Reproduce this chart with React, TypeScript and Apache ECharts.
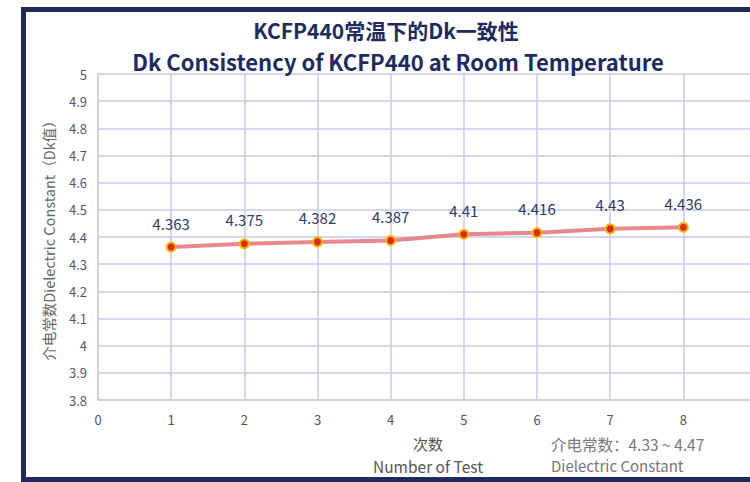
import React, { useEffect, useRef } from "react";
import * as echarts from "echarts";

const testNumbers = [1, 2, 3, 4, 5, 6, 7, 8];
const dkValues = [4.363, 4.375, 4.382, 4.387, 4.41, 4.416, 4.43, 4.436];
const titleCn = "KCFP440常温下的Dk一致性";
const titleEn = "Dk Consistency of KCFP440 at Room Temperature";
const yAxisName = "介电常数Dielectric Constant（Dk值）";
const xNameCn = "次数";
const xNameEn = "Number of Test";
const rangeCn = "介电常数：4.33 ~ 4.47";
const rangeEn = "Dielectric Constant";

const FONT = "'Noto Sans CJK SC', 'Noto Sans', sans-serif";

export default function App() {
  const ref = useRef<HTMLDivElement>(null);
  useEffect(() => {
    if (!ref.current) return;
    const chart = echarts.init(ref.current, null, { renderer: "svg" });
    chart.setOption({
      animation: false,
      backgroundColor: "#ffffff",
      textStyle: { fontFamily: FONT },
      title: [
        {
          text: titleCn,
          left: 386,
          top: 19.2,
          padding: 0,
          textAlign: "center",
          textStyle: { fontSize: 21, lineHeight: 21, fontWeight: "bold", color: "#1f2b5c", fontFamily: FONT },
        },
        {
          text: titleEn,
          left: 398,
          top: 49.8,
          padding: 0,
          textAlign: "center",
          textStyle: { fontSize: 22, lineHeight: 22, fontWeight: "bold", color: "#1f2b5c", fontFamily: FONT },
        },
      ],
      grid: { left: 98, top: 74, bottom: 82, right: 23.5 },
      xAxis: {
        type: "value",
        min: 0,
        max: 9,
        interval: 1,
        axisLine: { show: true, lineStyle: { color: "#d0d0d0", width: 1.5 } },
        axisTick: { show: false },
        axisLabel: { margin: 13, fontSize: 13, color: "#555555", fontFamily: FONT },
        splitLine: { show: true, lineStyle: { color: "#c9c9ef", width: 1.5 } },
      },
      yAxis: {
        type: "value",
        min: 3.8,
        max: 5,
        interval: 0.1,
        name: yAxisName,
        nameLocation: "middle",
        nameGap: 42,
        nameTextStyle: { fontSize: 14.5, color: "#666666", fontFamily: FONT },
        axisLine: { show: true, lineStyle: { color: "#d0d0d0", width: 1.5 } },
        axisTick: { show: false },
        axisLabel: {
          margin: 11,
          fontSize: 13,
          color: "#4b5a7e",
          fontFamily: FONT,
          formatter: (v: number) => String(Math.round(v * 10) / 10),
        },
        splitLine: { show: true, lineStyle: { color: "#c9c9ef", width: 1.5 } },
      },
      series: [
        {
          type: "line",
          data: testNumbers.map((n, i) => [n, dkValues[i]]),
          symbol: "circle",
          symbolSize: 9,
          lineStyle: { color: "#e8878d", width: 4 },
          itemStyle: { color: "#d62b1f", borderColor: "#f5b400", borderWidth: 2 },
          label: {
            show: true,
            position: "top",
            distance: 11,
            fontSize: 15,
            color: "#2e3a68",
            fontFamily: FONT,
            formatter: (p: any) => String(p.value[1]),
          },
        },
      ],
      graphic: [
        {
          type: "rect",
          shape: { x: 23.5, y: 9.5, width: 790, height: 470 },
          style: { fill: "none", stroke: "#1f2b5c", lineWidth: 5 },
          silent: true,
        },
        {
          type: "text",
          x: 428,
          y: 443.5,
          style: { text: xNameCn, fontSize: 15, lineHeight: 15, fill: "#555555", align: "center", verticalAlign: "middle", fontFamily: FONT },
        },
        {
          type: "text",
          x: 428,
          y: 465.5,
          style: { text: xNameEn, fontSize: 15.5, lineHeight: 15, fill: "#555555", align: "center", verticalAlign: "middle", fontFamily: FONT },
        },
        {
          type: "text",
          x: 551,
          y: 443.5,
          style: { text: rangeCn, fontSize: 15.5, lineHeight: 15, fill: "#777777", align: "left", verticalAlign: "middle", fontFamily: FONT },
        },
        {
          type: "text",
          x: 551,
          y: 465.5,
          style: { text: rangeEn, fontSize: 15, lineHeight: 15, fill: "#777777", align: "left", verticalAlign: "middle", fontFamily: FONT },
        },
      ],
    });
    return () => chart.dispose();
  }, []);
  return (
    <div style={{ position: "absolute", left: 0, top: 0, width: 750, height: 482, overflow: "hidden" }}>
      <div ref={ref} style={{ width: 780, height: 482 }} />
    </div>
  );
}
